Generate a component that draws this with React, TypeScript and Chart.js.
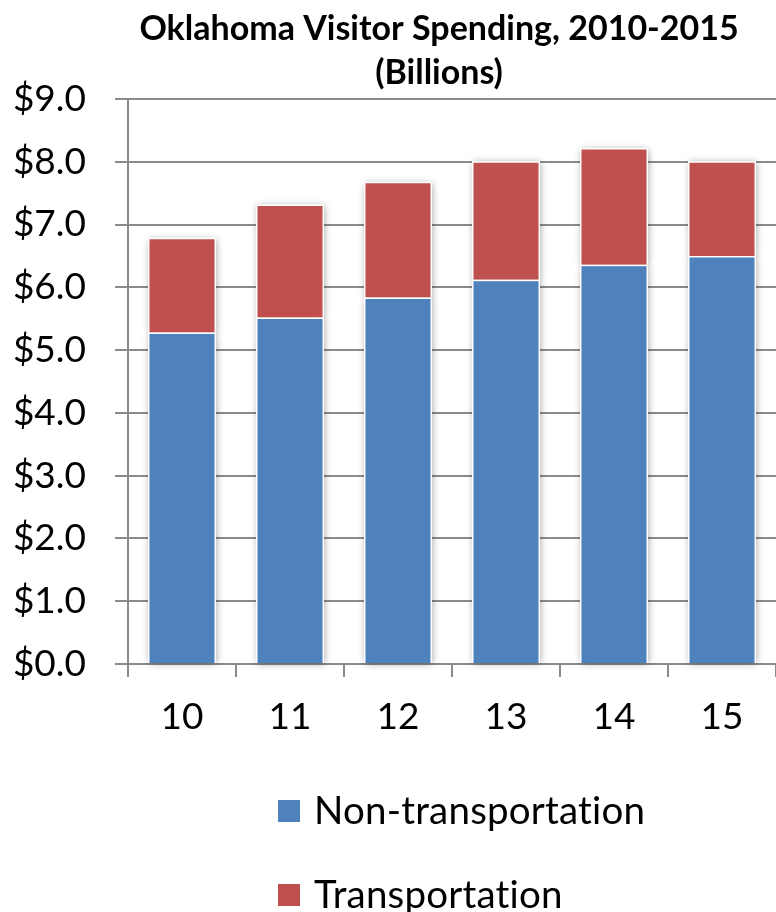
import { useEffect, useRef } from 'react';
import { Chart, registerables } from 'chart.js';

Chart.register(...registerables);

// Visitor spending by year (billions of dollars)
const years = ['10', '11', '12', '13', '14', '15'];
const nonTransportation = [5.28, 5.52, 5.84, 6.12, 6.36, 6.5];
const transportation = [1.51, 1.8, 1.84, 1.89, 1.86, 1.51];
const seriesNames = ['Non-transportation', 'Transportation'];
const seriesColors = ['#4F81BD', '#C0504D'];
const titleLines = ['Oklahoma Visitor Spending, 2010-2015', '(Billions)'];

const FONT = 'Lato, "Open Sans", sans-serif';
const GRID = '#8a8a8a';

// Soft drop shadow painted underneath every bar segment
const barShadow = {
  id: 'barShadow',
  beforeDatasetsDraw(chart: any) {
    const ctx = chart.ctx;
    ctx.save();
    ctx.shadowColor = 'rgba(0,0,0,0.35)';
    ctx.shadowBlur = 7;
    ctx.shadowOffsetX = 1;
    ctx.shadowOffsetY = 1;
    ctx.fillStyle = '#ffffff';
    chart.data.datasets.forEach((_: any, i: number) => {
      const meta = chart.getDatasetMeta(i);
      meta.data.forEach((bar: any) => {
        const { x, y, base, width } = bar.getProps(['x', 'y', 'base', 'width'], true);
        ctx.fillRect(x - width / 2, Math.min(y, base), width, Math.abs(base - y));
      });
    });
    ctx.restore();
  },
};

// Two-line bold heading above the plot
const heading = {
  id: 'heading',
  afterDraw(chart: any) {
    const ctx = chart.ctx;
    const area = chart.chartArea;
    const cx = area.left + area.width * 0.48;
    ctx.save();
    ctx.fillStyle = '#000';
    ctx.font = `bold 34px ${FONT}`;
    ctx.textAlign = 'center';
    ctx.textBaseline = 'middle';
    ctx.fillText(titleLines[0], cx, 29);
    ctx.fillText(titleLines[1], cx, 73);
    ctx.restore();
  },
};

// Legend stacked one entry per row under the axis
const stackedLegend = {
  id: 'stackedLegend',
  afterDraw(chart: any) {
    const ctx = chart.ctx;
    const area = chart.chartArea;
    const left = area.left + 150;
    ctx.save();
    ctx.font = `38.5px ${FONT}`;
    ctx.letterSpacing = '0.2px';
    ctx.textAlign = 'left';
    ctx.textBaseline = 'middle';
    chart.data.datasets.forEach((ds: any, i: number) => {
      const cy = area.bottom + 147 + i * 84;
      ctx.fillStyle = ds.backgroundColor;
      ctx.fillRect(left, cy - 11, 22, 22);
      ctx.fillStyle = '#000';
      ctx.fillText(ds.label, left + 36, cy + 1);
    });
    ctx.restore();
  },
};

export default function App() {
  const canvasRef = useRef<HTMLCanvasElement | null>(null);

  useEffect(() => {
    if (!canvasRef.current) return;
    const chart = new Chart(canvasRef.current, {
      type: 'bar',
      data: {
        labels: years,
        datasets: [
          {
            label: seriesNames[0],
            data: nonTransportation,
            backgroundColor: seriesColors[0],
            borderColor: '#ffffff',
            borderWidth: 1.5,
          },
          {
            label: seriesNames[1],
            data: transportation,
            backgroundColor: seriesColors[1],
            borderColor: '#ffffff',
            borderWidth: 1.5,
          },
        ],
      },
      options: {
        responsive: false,
        animation: false,
        layout: { padding: { top: 99, right: 0, bottom: 168, left: 0 } },
        datasets: { bar: { categoryPercentage: 1, barPercentage: 0.63 } },
        plugins: {
          legend: { display: false },
          title: { display: false },
          tooltip: { enabled: false },
        },
        scales: {
          x: {
            stacked: true,
            grid: {
              offset: true,
              drawOnChartArea: false,
              drawTicks: true,
              tickLength: 13,
              color: GRID,
              lineWidth: 2,
            },
            border: { display: true, color: GRID, width: 2 },
            ticks: {
              color: '#000',
              font: { family: FONT, size: 37 },
              padding: 18,
              maxRotation: 0,
            },
            afterFit(scale: any) {
              scale.height = 80;
            },
          },
          y: {
            stacked: true,
            min: 0,
            max: 9,
            grid: {
              color: GRID,
              lineWidth: 2,
              tickLength: 13,
            },
            border: { display: true, color: GRID, width: 2 },
            ticks: {
              stepSize: 1,
              color: '#000',
              font: { family: FONT, size: 37 },
              padding: 29,
              callback: (v: any) => '$' + Number(v).toFixed(1),
            },
            afterFit(scale: any) {
              scale.width = 128;
            },
          },
        },
      },
      plugins: [barShadow, heading, stackedLegend],
    });
    return () => chart.destroy();
  }, []);

  return (
    <div style={{ position: 'absolute', left: 0, top: 0, width: 776, height: 912, background: '#fff' }}>
      <canvas ref={canvasRef} width={776} height={912} />
    </div>
  );
}
